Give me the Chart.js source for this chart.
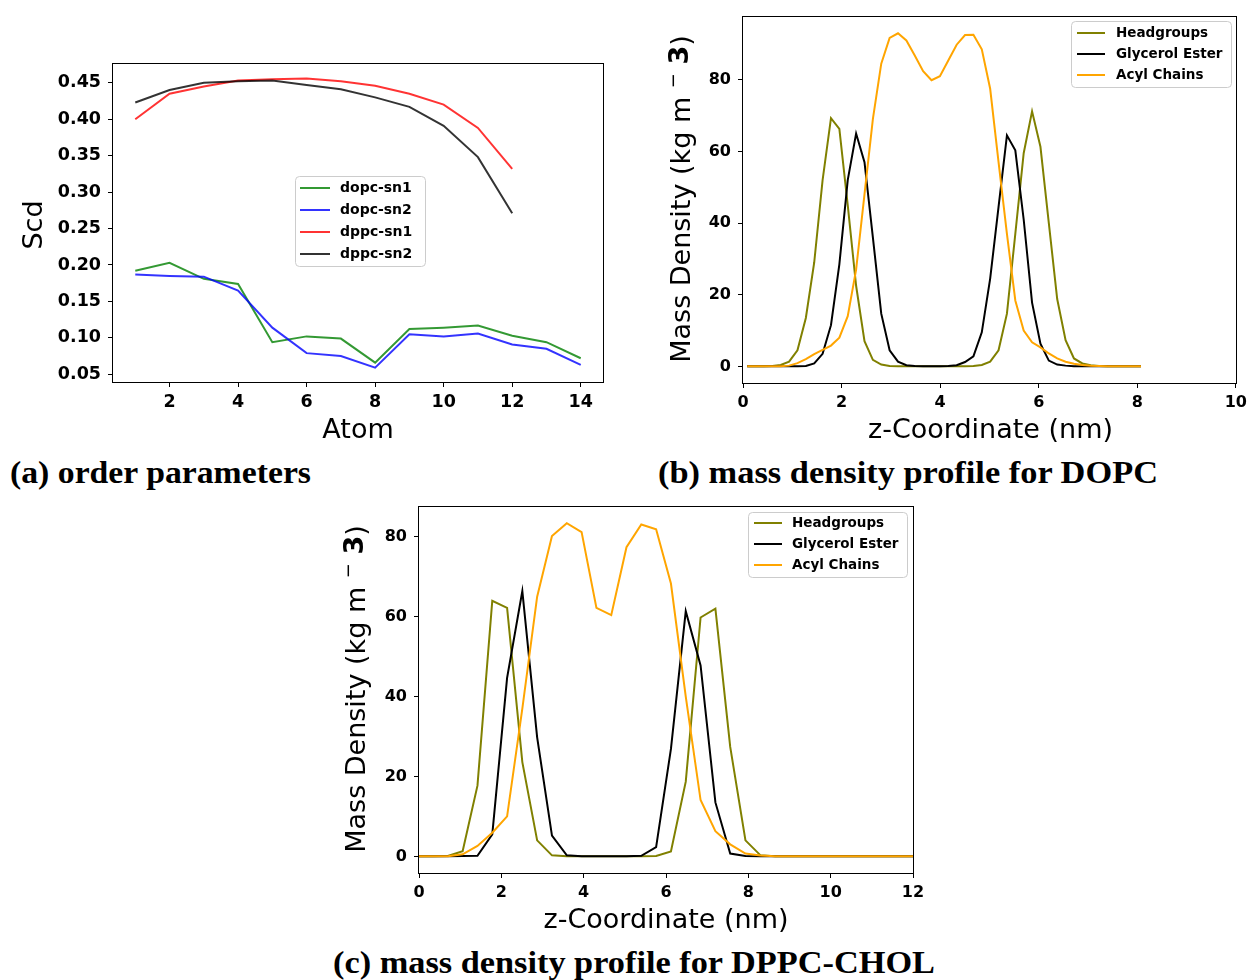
<!DOCTYPE html>
<html><head><meta charset="utf-8">
<script src="https://cdn.jsdelivr.net/npm/chart.js@4.4.1/dist/chart.umd.min.js"></script>
<style>
html,body{margin:0;padding:0;background:#fff;}
body{width:1252px;height:980px;position:relative;overflow:hidden;}
canvas{position:absolute;display:block;}
.cap{position:absolute;font-family:"Liberation Serif",serif;font-weight:bold;font-size:31px;white-space:nowrap;transform-origin:0 50%;line-height:34px;height:34px;color:#000;}
</style></head><body>
<canvas id="ca" width="620" height="450" style="left:0;top:0"></canvas>
<canvas id="cb" width="612" height="450" style="left:640px;top:0"></canvas>
<canvas id="cc" width="640" height="450" style="left:300px;top:490px"></canvas>
<div class="cap" data-w="301" style="left:10px;top:456px">(a) order parameters</div>
<div class="cap" data-w="500" style="left:658px;top:456px">(b) mass density profile for DOPC</div>
<div class="cap" data-w="602" style="left:333px;top:946px">(c) mass density profile for DPPC-CHOL</div>
<script>
// ---------- data: (a) order parameters ----------
const atoms = [1,2,3,4,5,6,7,8,9,10,11,12,13,14];
const dopcSn1 = [0.192,0.203,0.181,0.174,0.094,0.102,0.099,0.066,0.112,0.114,0.117,0.103,0.094,0.072];
const dopcSn2 = [0.187,0.185,0.184,0.165,0.114,0.079,0.075,0.059,0.105,0.102,0.106,0.091,0.085,0.063];
const dppcSn1 = [0.400,0.435,0.445,0.453,0.455,0.456,0.452,0.446,0.435,0.420,0.388,0.332];
const dppcSn2 = [0.423,0.440,0.450,0.452,0.453,0.447,0.441,0.430,0.417,0.391,0.348,0.271];
const atomTicks = [2,4,6,8,10,12,14];
const scdTicks = [0.05,0.10,0.15,0.20,0.25,0.30,0.35,0.40,0.45];

// ---------- data: (b) DOPC mass density ----------
const zB = [0.085,0.255,0.425,0.595,0.765,0.935,1.105,1.275,1.445,1.615,1.785,1.955,2.125,2.295,2.465,2.635,2.805,2.975,3.145,3.315,3.485,3.655,3.825,3.995,4.165,4.335,4.505,4.675,4.845,5.015,5.185,5.355,5.525,5.695,5.865,6.035,6.205,6.375,6.545,6.715,6.885,7.055,7.225,7.395,7.565,7.735,7.905,8.075];
const headB = [0,0,0,0.1,0.4,1.3,4.5,13.5,29,52,69.3,66.3,45,22.5,7,1.8,0.5,0.1,0,0,0,0,0,0,0,0,0,0.1,0.4,1.3,4.5,14.7,37,59.5,71.2,61.3,40,18.8,7.3,2.2,0.8,0.3,0.1,0,0,0,0,0];
const glyB = [0,0,0,0,0,0,0,0.1,0.8,3.5,11.5,28.5,52,65,57,36,14.7,4.5,1.3,0.3,0.1,0,0,0,0.1,0.3,1.2,2.8,9.5,24.5,44.5,64.5,60.3,41,17.8,6.3,1.6,0.5,0.2,0,0,0,0,0,0,0,0,0];
const acylB = [0,0,0,0,0.05,0.2,0.9,2.0,3.4,4.6,5.8,8.0,14,27,48,69,84.5,91.7,93,91,86.8,82.4,79.9,81,85.4,89.8,92.5,92.6,88.5,77.5,57,37,18.4,10,6.7,5.3,3.6,2.2,1.3,0.7,0.4,0.2,0.1,0,0,0,0,0];
const densTicks = [0,20,40,60,80];
const zTicksB = [0,2,4,6,8,10];

// ---------- data: (c) DPPC-CHOL mass density ----------
const zC = [0,0.34,0.70,1.06,1.42,1.78,2.14,2.51,2.87,3.23,3.59,3.95,4.31,4.67,5.04,5.40,5.76,6.12,6.48,6.84,7.20,7.56,7.93,8.29,8.65,9.01,9.37,9.73,10.09,10.46,10.82,11.18,11.54,11.90,12.26];
const headC = [0,0,0.1,1.3,17.7,64,62.2,23.6,4.0,0.25,0,0,0,0,0,0,0.1,1.2,18.7,59.8,62,27.4,4.0,0.3,0,0,0,0,0,0,0,0,0,0,0];
const glyC = [0,0,0,0.1,0.15,5.5,44.7,66.4,29.8,5.2,0.25,0.05,0,0,0,0.15,2.3,26.9,61.4,47.8,13.5,0.7,0.1,0,0,0,0,0,0,0,0,0,0,0,0];
const acylC = [0,0,0.05,0.5,2.6,5.9,10,37,65,80.2,83.4,81.2,62.2,60.4,77.4,83.1,81.9,68.3,40,14.1,6.3,3.0,0.7,0.2,0,0,0,0,0,0,0,0,0,0,0];
const zTicksC = [0,2,4,6,8,10,12];

const seriesNamesA = ['dopc-sn1','dopc-sn2','dppc-sn1','dppc-sn2'];
const seriesNamesBC = ['Headgroups','Glycerol Ester','Acyl Chains'];

Chart.defaults.font.family = 'DejaVu Sans';
Chart.defaults.color = '#000';

// ---------- plugins ----------
const extras = {};
function rr(ctx,x,y,w,h,r){ctx.moveTo(x+r,y);ctx.lineTo(x+w-r,y);ctx.quadraticCurveTo(x+w,y,x+w,y+r);ctx.lineTo(x+w,y+h-r);ctx.quadraticCurveTo(x+w,y+h,x+w-r,y+h);ctx.lineTo(x+r,y+h);ctx.quadraticCurveTo(x,y+h,x,y+h-r);ctx.lineTo(x,y+r);ctx.quadraticCurveTo(x,y,x+r,y);ctx.closePath();}
const decor = {
  id:'decor',
  afterDraw(chart){
    const o = extras[chart.canvas.id]; if(!o) return;
    const ctx = chart.ctx, a = chart.chartArea;
    ctx.save();
    ctx.strokeStyle='#000'; ctx.lineWidth=1;
    ctx.strokeRect(Math.round(a.left)-0.5, Math.round(a.top)-0.5, Math.round(a.right-a.left)+1, Math.round(a.bottom-a.top)+1);
    const L = o.legend;
    ctx.beginPath(); rr(ctx,L.bx+0.5,L.by+0.5,L.bw,L.bh,4);
    ctx.fillStyle='rgba(255,255,255,0.8)'; ctx.fill();
    ctx.strokeStyle='#cccccc'; ctx.lineWidth=1; ctx.stroke();
    ctx.font = 'bold '+L.size+'px "DejaVu Sans"'; ctx.textBaseline='middle'; ctx.textAlign='left';
    chart.data.datasets.forEach((ds,i)=>{
      const cy = L.firstY + i*L.rowH;
      ctx.beginPath(); ctx.moveTo(L.x0,cy); ctx.lineTo(L.x1,cy);
      ctx.strokeStyle=ds.borderColor; ctx.lineWidth=ds.borderWidth; ctx.stroke();
      ctx.fillStyle='#000'; ctx.fillText(ds.label, L.tx, cy);
    });
    ctx.fillStyle='#000'; ctx.textAlign='center'; ctx.textBaseline='middle';
    ctx.font = o.tsize+'px "DejaVu Sans"';
    ctx.fillText(o.xText, o.xcx, o.xcy);
    ctx.translate(o.ycx, o.ycy); ctx.rotate(-Math.PI/2);
    let total = 0;
    o.yParts.forEach(p=>{ctx.font=p.font; p.w=ctx.measureText(p.t).width; total+=p.w;});
    let x = -total/2; ctx.textAlign='left';
    o.yParts.forEach(p=>{ctx.font=p.font; ctx.fillText(p.t, x, p.dy||0); x+=p.w;});
    ctx.restore();
  }
};

function scales(xr, yr, xt, yt, yfmt, xH, yW, fs){
  const tf = {family:'DejaVu Sans', weight:'bold', size:fs};
  const grid = {display:true, drawOnChartArea:false, drawTicks:true, tickLength:5, tickColor:'#000', color:'#000', lineWidth:1};
  return {
    x:{type:'linear', min:xr[0], max:xr[1], grid:grid, border:{display:false},
       afterBuildTicks:s=>{s.ticks = xt.map(v=>({value:v}));},
       afterFit:s=>{s.height = xH;},
       ticks:{color:'#000', font:tf, padding:5, maxRotation:0, autoSkip:false, callback:v=>String(v)}},
    y:{type:'linear', min:yr[0], max:yr[1], grid:grid, border:{display:false},
       afterBuildTicks:s=>{s.ticks = yt.map(v=>({value:v}));},
       afterFit:s=>{s.width = yW;},
       ticks:{color:'#000', font:tf, padding:7, autoSkip:false, callback:yfmt}}
  };
}
function ds(label, xs, ys, color, order){
  return {label, data: ys.map((y,i)=>({x:xs[i], y})), borderColor:color, borderWidth:2, pointRadius:0, fill:false, tension:0, order};
}
function make(id, datasets, sc, pad){
  return new Chart(document.getElementById(id), {
    type:'line', data:{datasets},
    options:{responsive:false, animation:false, devicePixelRatio:1,
      layout:{padding:pad},
      plugins:{legend:{display:false}, tooltip:{enabled:false}},
      scales:sc},
    plugins:[decor]
  });
}

// (a)
extras.ca = {legend:{bx:295,by:176,bw:130,bh:90,firstY:188,rowH:22,x0:300,x1:330,tx:340,size:14},
  tsize:27, xText:'Atom', xcx:358, xcy:431, ycx:35, ycy:225,
  yParts:[{t:'Scd', font:'27px "DejaVu Sans"'}]};
make('ca', [
  ds(seriesNamesA[0], atoms, dopcSn1, 'rgba(0,128,0,0.8)', 4),
  ds(seriesNamesA[1], atoms, dopcSn2, 'rgba(0,0,255,0.8)', 3),
  ds(seriesNamesA[2], atoms, dppcSn1, 'rgba(255,0,0,0.8)', 2),
  ds(seriesNamesA[3], atoms, dppcSn2, 'rgba(0,0,0,0.8)', 1)
], scales([0.35,14.65],[0.0394,0.4758],atomTicks,scdTicks,v=>v.toFixed(2),68,113,17.5), {top:64,right:17,left:0,bottom:0});

const yDensParts = [
  {t:'Mass Density (kg m', font:'27px "DejaVu Sans"'},
  {t:' ', font:'27px "DejaVu Sans"'},
  {t:'\u2212', font:'18px "DejaVu Sans"', dy:-9},
  {t:' ', font:'27px "DejaVu Sans"'},
  {t:'3', font:'bold 27px "DejaVu Sans"', dy:-2},
  {t:')', font:'27px "DejaVu Sans"'}
];
// (b)
extras.cb = {legend:{bx:431,by:21,bw:160,bh:66,firstY:33,rowH:21,x0:437,x1:465,tx:476,size:13.5},
  tsize:27, xText:'z-Coordinate (nm)', xcx:350.5, xcy:431, ycx:43, ycy:199, yParts:yDensParts.map(p=>({...p}))};
make('cb', [
  ds(seriesNamesBC[0], zB, headB, '#808000', 3),
  ds(seriesNamesBC[1], zB, glyB, '#000000', 2),
  ds(seriesNamesBC[2], zB, acylB, '#ffa500', 1)
], scales([0,10],[-4.65,97.65],zTicksB,densTicks,v=>String(v),67,103,16), {top:14,right:14,left:0,bottom:0});

// (c)
extras.cc = {legend:{bx:448,by:22,bw:159,bh:65,firstY:33,rowH:21,x0:454,x1:482,tx:492,size:13.5},
  tsize:27, xText:'z-Coordinate (nm)', xcx:366, xcy:431, ycx:58, ycy:199, yParts:yDensParts.map(p=>({...p}))};
make('cc', [
  ds(seriesNamesBC[0], zC, headC, '#808000', 3),
  ds(seriesNamesBC[1], zC, glyC, '#000000', 2),
  ds(seriesNamesBC[2], zC, acylC, '#ffa500', 1)
], scales([0,12],[-4.17,87.57],zTicksC,densTicks,v=>String(v),67,119,16), {top:14,right:27,left:0,bottom:0});

function fitCaps(){
  document.querySelectorAll('.cap').forEach(el=>{
    el.style.transform='none';
    const w = el.getBoundingClientRect().width;
    el.style.transform = 'scaleX('+(parseFloat(el.dataset.w)/w)+')';
  });
}
fitCaps();
if (document.fonts && document.fonts.ready) document.fonts.ready.then(fitCaps);
</script>
</body></html>
